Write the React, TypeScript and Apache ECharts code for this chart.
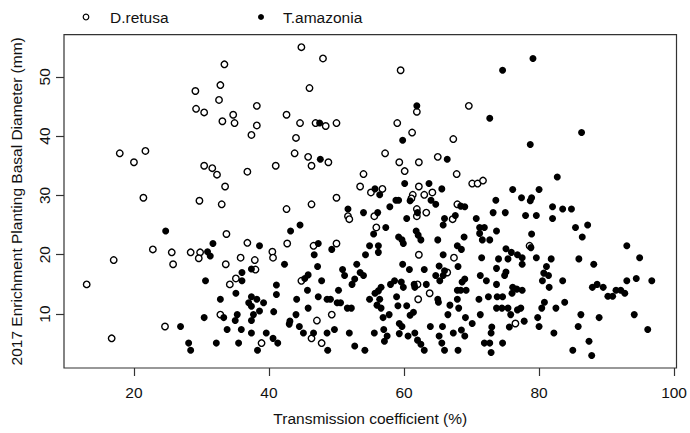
import React, { useEffect, useRef } from "react";
import * as echarts from "echarts";

const xTicks = [20, 40, 60, 80, 100];
const yTicks = [10, 20, 30, 40, 50];
const xTitle = "Transmission coefficient (%)";
const yTitle = "2017 Enrichment Planting Basal Diameter (mm)";
const seriesNames = ["D.retusa", "T.amazonia"];

const dRetusa: number[][] = [
  [33.4,52.1],[32.8,48.6],[29.1,47.6],[32.6,46.1],[29.2,44.6],[30.4,44.0],[38.2,45.1],[33.1,42.5],[34.7,43.6],[34.9,42.2],[38.2,41.8],[37.4,40.2],
  [44.8,55.0],[48.0,53.1],[59.5,51.1],[46.0,48.1],[42.6,43.6],[44.6,42.2],[46.9,42.2],[48.4,41.7],[50.0,42.2],[61.9,44.1],[69.6,45.1],[59.0,42.2],[61.2,40.6],[44.0,39.7],[67.3,39.5],
  [17.9,37.1],[21.7,37.5],[20.0,35.6],[30.4,35.0],[31.6,34.6],[32.3,33.5],[36.8,34.0],[41.0,35.0],[33.5,31.5],[21.4,29.6],[29.7,29.1],[33.0,28.5],[33.7,23.5],[36.8,22.0],[22.8,20.9],[25.6,20.4],[28.4,20.4],[29.8,20.4],[40.5,20.5],[17.0,19.1],[29.6,19.4],[35.8,19.5],[37.9,19.1],[40.6,19.5],
  [43.8,37.1],[45.8,36.5],[46.3,35.0],[48.8,35.6],[57.2,37.1],[59.3,35.6],[62.2,35.6],[65.0,36.5],[60.1,34.1],[67.8,33.6],[54.0,33.6],[53.5,31.5],[55.1,30.5],[56.8,31.1],[62.2,31.5],[61.3,30.1],[63.0,30.1],[64.2,30.5],[61.1,29.5],[70.1,32.0],[70.9,32.0],[50.0,29.6],[46.3,28.5],[42.6,27.7],[67.9,28.5],[61.9,27.7],[63.3,27.1],[61.9,26.5],[55.6,26.5],[51.7,26.5],[51.9,26.0],[67.2,26.0],[55.9,24.6],[42.7,21.9],[46.6,21.5],[50.0,21.9],[62.2,20.0],[67.4,19.5],
  [71.7,32.5],[78.6,21.5],
  [13.0,15.0],[16.7,5.9],[25.8,18.4],[33.6,18.4],[38.0,17.5],[35.1,16.0],[34.2,15.0],[32.8,9.9],[24.6,7.9],[38.9,5.1],
  [44.8,15.6],[66.4,17.0],[62.0,15.0],[62.1,12.5],[63.8,13.5],[49.3,9.9],[47.1,8.9],[46.3,5.9],[47.8,5.1],
  [76.5,8.4]
];

const tAmazonia: number[][] = [
  [47.5,42.2],[61.9,45.1],[59.8,39.3],
  [79.1,53.1],[74.6,51.1],[72.7,43.0],[86.3,40.6],
  [24.7,24.0],[31.7,21.9],[38.6,21.5],[30.9,20.5],[31.3,19.8],
  [47.6,36.1],[66.4,36.1],[60.1,32.0],[63.7,32.0],[65.6,31.1],[55.7,31.1],[56.4,30.1],[58.8,29.2],[59.2,29.2],[60.9,29.1],[64.0,29.2],[64.7,28.5],[57.9,28.1],[68.4,28.2],[69.0,28.1],[51.7,27.7],[54.0,27.1],[56.1,27.1],[62.0,27.1],[60.4,26.1],[66.0,26.1],[67.6,26.6],[70.7,26.1],[44.6,25.0],[43.2,24.0],[57.3,24.6],[65.8,25.0],[55.5,23.5],[61.8,24.0],[62.1,23.3],[59.2,23.0],[59.7,22.5],[59.9,21.9],[62.5,22.5],[65.0,22.5],[68.9,23.0],[67.9,21.5],[68.5,20.9],[47.3,21.9],[54.9,21.5],[56.2,21.5],[49.3,20.9],[46.7,20.0],[54.3,20.0],[56.2,20.4],[65.8,20.0],
  [78.7,38.6],[82.7,33.1],[76.1,31.0],[80.0,31.0],[77.4,29.6],[78.9,29.6],[78.7,29.1],[73.6,29.2],[82.0,28.1],[83.5,27.7],[84.8,27.7],[73.2,27.1],[75.0,27.1],[78.0,26.6],[79.6,26.6],[82.0,26.1],[85.4,24.6],[87.2,25.0],[86.4,23.0],[71.2,24.6],[71.9,24.6],[71.2,23.6],[73.7,24.0],[71.6,22.5],[72.7,22.5],[78.9,23.5],[93.0,21.5],[75.1,21.0],[75.9,20.4],[76.8,20.0],[77.5,19.5],[78.8,21.2],[71.5,19.5],[74.0,19.3],[75.4,19.3],[79.6,19.5],[81.8,19.3],[85.9,19.3],[94.9,19.5],
  [37.4,17.6],[36.0,17.0],[36.0,15.6],[30.6,15.6],[32.8,12.5],[35.1,13.5],[37.4,12.9],[37.0,11.9],[37.4,11.3],[38.2,12.5],[39.2,11.9],[41.1,14.9],[41.1,13.3],[30.4,9.4],[33.3,9.4],[35.3,9.9],[35.0,8.9],[37.7,9.9],[37.4,8.9],[38.6,10.5],[40.7,10.4],[26.9,7.9],[33.8,7.4],[35.9,7.4],[37.4,6.8],[39.6,6.8],[40.6,5.9],[28.1,5.1],[28.4,3.9],[32.2,5.1],[35.5,5.1],[38.3,3.9],
  [42.3,18.4],[47.2,18.0],[50.9,17.5],[51.2,16.5],[53.0,18.4],[53.5,17.0],[54.0,16.5],[52.7,15.9],[52.3,15.0],[45.3,16.0],[45.8,16.6],[47.8,15.6],[45.7,14.0],[50.3,14.0],[47.3,12.9],[48.6,12.5],[49.1,12.5],[50.1,11.9],[50.6,11.9],[44.1,12.5],[45.8,11.0],[51.6,11.0],[52.2,11.0],[44.0,9.9],[43.1,8.8],[43.0,8.3],[44.5,7.9],[45.1,6.8],[46.6,6.8],[48.6,6.8],[49.7,7.4],[51.9,6.8],[41.3,5.1],[48.7,3.9],[52.7,4.6],[54.2,3.9],
  [59.8,18.4],[60.8,17.5],[63.0,17.5],[65.2,18.1],[64.7,16.5],[65.8,16.5],[66.0,17.3],[68.0,18.0],[69.0,15.9],[68.6,15.4],[65.3,15.6],[58.6,15.6],[58.0,15.0],[59.6,15.4],[59.9,14.5],[56.6,14.5],[56.2,13.9],[55.7,13.5],[54.9,12.5],[56.4,12.5],[56.0,11.5],[56.6,11.0],[58.9,12.9],[59.1,11.4],[60.4,11.4],[61.5,15.0],[61.6,14.5],[63.3,15.0],[65.0,12.5],[65.1,12.0],[66.8,11.5],[68.1,11.0],[67.9,12.5],[67.9,14.0],[68.4,14.0],[69.2,14.0],[57.8,9.9],[56.9,9.4],[61.4,10.3],[60.9,9.8],[66.5,9.9],[69.1,9.4],[70.1,8.4],[59.3,8.4],[59.7,7.9],[63.9,7.9],[65.7,7.9],[67.3,6.8],[68.5,7.3],[69.0,6.3],[55.6,6.8],[57.0,7.4],[57.5,6.3],[57.1,5.4],[59.3,6.7],[60.6,6.3],[61.6,6.8],[62.0,5.6],[62.5,4.9],[63.0,3.9],[65.2,6.3],[65.6,5.1],[66.0,3.9],[68.0,3.9],
  [77.5,18.4],[81.1,18.0],[73.7,17.7],[75.1,17.1],[74.9,16.5],[71.3,16.5],[72.2,15.6],[73.7,15.0],[76.1,14.5],[76.7,14.2],[77.5,14.0],[76.0,13.5],[71.1,12.5],[72.5,12.9],[73.8,12.9],[74.6,12.9],[73.7,11.0],[74.5,11.0],[75.4,11.0],[75.8,9.9],[76.8,10.7],[77.3,11.0],[71.3,9.9],[77.8,8.8],[75.6,7.8],[73.0,7.8],[72.9,6.8],[71.9,5.1],[72.7,5.1],[72.9,3.5],[74.6,5.1],[80.7,16.9],[81.4,16.5],[80.5,15.6],[81.5,14.5],[83.5,15.6],[80.8,12.0],[80.4,11.0],[82.5,11.0],[83.8,12.0],[79.8,9.4],[80.0,7.9],[82.2,6.8],[88.1,18.4],[94.4,16.0],[96.7,15.6],[93.0,15.6],[87.9,14.5],[88.6,15.0],[89.5,14.5],[90.2,13.0],[90.9,13.0],[91.4,14.0],[92.1,14.0],[92.7,13.5],[86.2,9.9],[88.9,9.4],[94.1,9.9],[85.8,7.9],[96.1,7.4],[87.4,5.4],[85.0,3.9],[87.8,3.0]
];

export default function App() {
  const ref = useRef<HTMLDivElement>(null);
  useEffect(() => {
    if (!ref.current) return;
    const chart = echarts.init(ref.current, null, { renderer: "svg" });
    const font = "'Liberation Sans', Arial, Helvetica, sans-serif";
    const ink = "#111";
    const lineCol = "#333";
    chart.setOption({
      animation: false,
      backgroundColor: "#fff",
      textStyle: { fontFamily: font },
      grid: {
        left: 64, right: 10.5, top: 34.7, bottom: 65,
        show: true, borderColor: lineCol, borderWidth: 1.2, containLabel: false
      },
      xAxis: {
        type: "value", min: 9.64, max: 100.36,
        splitLine: { show: false },
        axisLine: { show: false },
        axisTick: { show: true, inside: false, length: 8, customValues: xTicks, lineStyle: { color: lineCol, width: 1.2 } },
        axisLabel: { customValues: xTicks, margin: 16, fontSize: 15.5, color: ink, fontFamily: font },
        name: xTitle, nameLocation: "middle", nameGap: 42,
        nameTextStyle: { fontSize: 15.5, color: ink, fontFamily: font }
      },
      yAxis: {
        type: "value", min: 0.9, max: 57.1,
        splitLine: { show: false },
        axisLine: { show: false },
        axisTick: { show: true, inside: false, length: 8, customValues: yTicks, lineStyle: { color: lineCol, width: 1.2 } },
        axisLabel: { customValues: yTicks, rotate: 90, margin: 12, fontSize: 15.5, color: ink, fontFamily: font },
        name: yTitle, nameLocation: "middle", nameGap: 40, nameRotate: 90,
        nameTextStyle: { fontSize: 15.5, color: ink, fontFamily: font }
      },
      graphic: [
        { type: "circle", shape: { cx: 86, cy: 17, r: 2.8 }, style: { fill: "#fff", stroke: "#000", lineWidth: 1.2 } },
        { type: "text", x: 110, y: 17, style: { text: seriesNames[0], fill: ink, font: `15.5px ${font}`, textVerticalAlign: "middle", verticalAlign: "middle" } },
        { type: "circle", shape: { cx: 261, cy: 17, r: 3 }, style: { fill: "#000" } },
        { type: "text", x: 283, y: 17, style: { text: seriesNames[1], fill: ink, font: `15.5px ${font}`, textVerticalAlign: "middle", verticalAlign: "middle" } }
      ],
      series: [
        {
          name: seriesNames[0], type: "scatter", data: dRetusa, symbol: "circle", symbolSize: 6.5,
          itemStyle: { color: "#fff", borderColor: "#000", borderWidth: 1.4, opacity: 1 }
        },
        {
          name: seriesNames[1], type: "scatter", data: tAmazonia, symbol: "circle", symbolSize: 7,
          itemStyle: { color: "#000", opacity: 1 }
        }
      ]
    });
    return () => chart.dispose();
  }, []);
  return <div ref={ref} style={{ position: "absolute", left: 0, top: 0, width: 690, height: 433 }} />;
}
